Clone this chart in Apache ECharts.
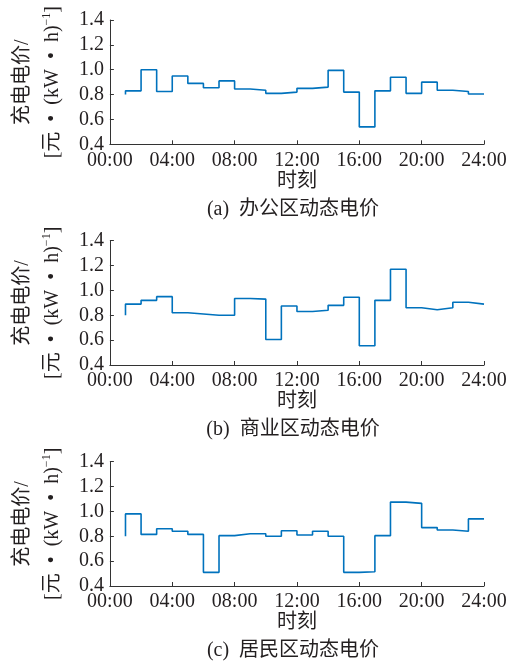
<!DOCTYPE html>
<html><head><meta charset="utf-8">
<script src="https://cdn.jsdelivr.net/npm/echarts@6/dist/echarts.min.js"></script>
<style>html,body{margin:0;padding:0;background:#fff}#c{width:514px;height:667px}</style>
</head><body><div id="c"></div>
<script>
const hours = [1,2,3,4,5,6,7,8,9,10,11,12,13,14,15,16,17,18,19,20,21,22,23,24];
const officePrice = [0.80,0.83,1.00,0.825,0.95,0.89,0.855,0.91,0.845,0.835,0.81,0.82,0.85,0.86,0.995,0.82,0.54,0.83,0.94,0.81,0.90,0.835,0.825,0.805];
const commercialPrice = [0.80,0.89,0.92,0.95,0.82,0.81,0.80,0.80,0.935,0.93,0.605,0.875,0.83,0.84,0.88,0.945,0.555,0.92,1.17,0.86,0.845,0.86,0.905,0.89];
const residentialPrice = [0.80,0.98,0.815,0.86,0.84,0.815,0.51,0.805,0.82,0.82,0.80,0.845,0.81,0.84,0.80,0.51,0.515,0.805,1.075,1.065,0.87,0.85,0.84,0.94];
const xTickLabels = ['00:00','04:00','08:00','12:00','16:00','20:00','24:00'];
const yTickLabels = ['0.4','0.6','0.8','1.0','1.2','1.4'];
const captions = ['(a)  办公区动态电价','(b)  商业区动态电价','(c)  居民区动态电价'];
const xName = '时刻';

const FONT = '"Liberation Serif","Times New Roman","Noto Sans CJK SC",serif';
const TXT = '#231f20';
const series = [officePrice, commercialPrice, residentialPrice];
const tops = [20, 240.7, 461.7];
const H = 124.3;
const SP = '\u2002';

const chart = echarts.init(document.getElementById('c'));
const grid = [], xAxis = [], yAxis = [], ser = [], graphic = [];
series.forEach((vals, i) => {
  grid.push({left:103, right:30, top:tops[i], height:H});
  xAxis.push({
    type:'value', gridIndex:i, min:0, max:24, interval:4,
    name:xName, nameLocation:'middle', nameGap:27,
    nameTextStyle:{fontFamily:FONT, fontSize:20, color:TXT},
    axisLine:{lineStyle:{color:'#333', width:1}},
    axisTick:{inside:true, length:4, lineStyle:{color:'#333'}},
    splitLine:{show:false},
    axisLabel:{fontFamily:FONT, fontSize:20, color:TXT, margin:6,
      formatter:v => xTickLabels[Math.round(v/4)]}
  });
  yAxis.push({
    type:'value', gridIndex:i, min:0.4, max:1.4, interval:0.2,
    name:'{a|充电电价/}\n{a|[元' + SP + '•' + SP + '(kW' + SP + '•' + SP + 'h)}{s|−1}{a|]}',
    nameLocation:'middle', nameRotate:90, nameGap:36,
    nameTextStyle:{fontFamily:FONT, fontSize:20, color:TXT, lineHeight:30,
      rich:{a:{fontFamily:FONT, fontSize:20, color:TXT, lineHeight:30},
            s:{fontFamily:FONT, fontSize:12, color:TXT, lineHeight:30, padding:[0,0,12,0]}}},
    axisLine:{show:true, lineStyle:{color:'#333', width:1}},
    axisTick:{show:true, inside:true, length:4, lineStyle:{color:'#333'}},
    splitLine:{show:false},
    axisLabel:{fontFamily:FONT, fontSize:20, color:TXT, margin:6,
      formatter:v => yTickLabels[Math.round((v-0.4)/0.2)]}
  });
  ser.push({
    type:'line', xAxisIndex:i, yAxisIndex:i, step:'start', symbol:'none',
    data: hours.map((h,k)=>[h, vals[k]]),
    lineStyle:{color:'#0072BD', width:1.6}, silent:true
  });
  graphic.push({type:'text', x:293, y:tops[i]+H+55,
    style:{text:captions[i], font:'20px '+FONT, fill:TXT, textAlign:'center', textVerticalAlign:'top'}});
});
chart.setOption({animation:false, grid, xAxis, yAxis, series:ser, graphic});
</script></body></html>
